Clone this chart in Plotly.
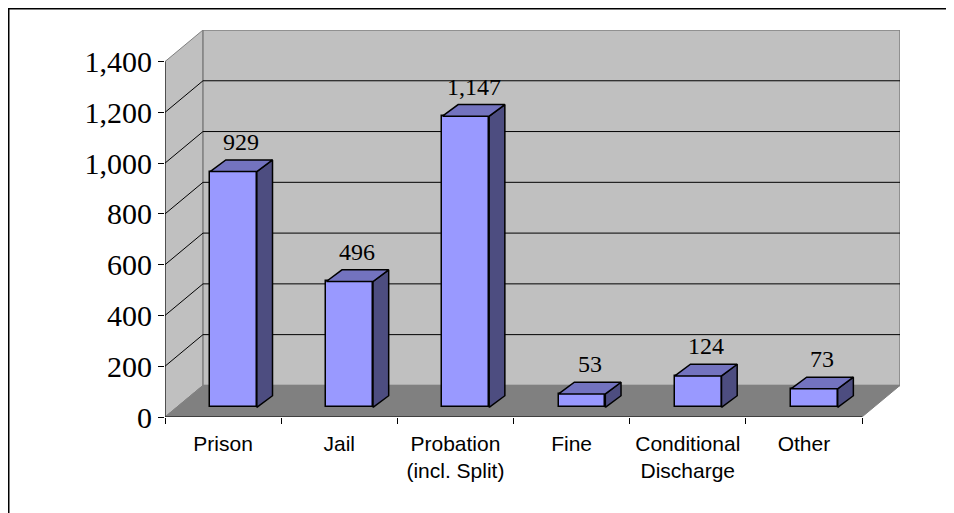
import plotly.graph_objects as go

# ---- data ----
categories = ["Prison", "Jail", "Probation<br>(incl. Split)", "Fine", "Conditional<br>Discharge", "Other"]
values = [929, 496, 1147, 53, 124, 73]
y_ticks = [0, 200, 400, 600, 800, 1000, 1200, 1400]

# ---- 3D geometry (in axis units) ----
DX, DY = 0.327, 124.4        # depth of the chart walls
BX, BY = 0.0895, 37.8        # front face of bars sits this far back
W = 0.402                    # bar width
DDX, DDY = 0.135, 46.0       # bar depth
YMAX = 1400

FRONT = "#9999FF"
TOP = "#7373BF"
SIDE = "#4D4D80"
WALL = "#C0C0C0"
FLOOR = "#808080"

# page body has an 8px margin; figure is sized/positioned to compensate
ML, MR, MT, MB = 157, 54, 22, 96
FW, FH = 946, 505
PW = FW - ML - MR
PH = FH - MT - MB

xs = list(range(len(values)))
x0, x1 = -0.5, len(values) - 0.5

fig = go.Figure()

shapes = []
shapes.append(dict(type="path", xref="x", yref="y", layer="below",
                   path=f"M {x0},0 L {x0+DX},{DY} L {x0+DX},{YMAX+DY} L {x0},{YMAX} Z",
                   fillcolor=WALL, line=dict(color="#808080", width=1)))
shapes.append(dict(type="path", xref="x", yref="y", layer="below",
                   path=f"M {x0+DX},{DY} L {x1+DX},{DY} L {x1+DX},{YMAX+DY} L {x0+DX},{YMAX+DY} Z",
                   fillcolor=WALL, line=dict(color="#808080", width=1.5)))
shapes.append(dict(type="path", xref="x", yref="y", layer="below",
                   path=f"M {x0},0 L {x1},0 L {x1+DX},{DY} L {x0+DX},{DY} Z",
                   fillcolor=FLOOR, line=dict(color="#808080", width=1)))
for v in y_ticks[1:-1]:
    shapes.append(dict(type="path", xref="x", yref="y", layer="below",
                       path=f"M {x0},{v} L {x0+DX},{v+DY} L {x1+DX},{v+DY}",
                       line=dict(color="#000000", width=1)))
shapes.append(dict(type="line", xref="x", yref="y", x0=x0, x1=x0, y0=0, y1=YMAX,
                   line=dict(color="#000000", width=1)))
shapes.append(dict(type="line", xref="x", yref="y", x0=x0, x1=x1, y0=0, y1=0,
                   line=dict(color="#000000", width=1)))
# outer frame
shapes.append(dict(type="rect", xref="paper", yref="paper",
                   x0=(0.5 - ML) / PW, x1=1.5, y0=-0.5, y1=(MT + PH - 0.5) / PH,
                   line=dict(color="#000000", width=2), fillcolor="rgba(0,0,0,0)"))

fig.add_trace(go.Bar(x=[x + BX for x in xs], y=values, base=[BY] * len(values), width=W,
                     marker=dict(color=FRONT, line=dict(color="#000000", width=1.5)),
                     hoverinfo="skip", showlegend=False))

for x, v in zip(xs, values):
    l = x + BX - W / 2
    r = x + BX + W / 2
    b = BY
    t = BY + v
    fig.add_trace(go.Scatter(
        x=[r, r + DDX, r + DDX, r, r], y=[b, b + DDY, t + DDY, t, b],
        fill="toself", fillcolor=SIDE, mode="lines",
        line=dict(color="#000000", width=1.5), hoverinfo="skip", showlegend=False))
    fig.add_trace(go.Scatter(
        x=[l, r, r + DDX, l + DDX, l], y=[t, t, t + DDY, t + DDY, t],
        fill="toself", fillcolor=TOP, mode="lines",
        line=dict(color="#000000", width=1.5), hoverinfo="skip", showlegend=False))

fig.add_trace(go.Scatter(x=[x0], y=[0], xaxis="x2", mode="markers",
                         marker=dict(opacity=0), hoverinfo="skip", showlegend=False))

annotations = []
for x, v in zip(xs, values):
    annotations.append(dict(x=x + BX + DDX / 2, y=v + BY + DDY, xref="x", yref="y",
                            text=f"{v:,}", showarrow=False, yanchor="bottom", yshift=3,
                            font=dict(family="Liberation Serif, Times New Roman, serif",
                                      size=24, color="#000000")))

xrange = [x0, x1 + DX]
fig.update_layout(
    width=FW, height=FH,
    margin=dict(l=ML, r=MR, t=MT, b=MB),
    paper_bgcolor="white", plot_bgcolor="white",
    shapes=shapes, annotations=annotations,
    bargap=0,
    xaxis=dict(range=xrange, tickmode="array", tickvals=xs, ticktext=categories,
               ticks="", showgrid=False, zeroline=False, showline=False,
               tickfont=dict(family="Liberation Sans, Arial, sans-serif", size=21, color="#000000"),
               ticklabelstandoff=12, fixedrange=True),
    xaxis2=dict(range=xrange, overlaying="x", anchor="y", side="bottom",
                tickmode="array", tickvals=[x0 + i for i in range(len(values) + 1)],
                ticks="outside", ticklen=6, tickcolor="#000000", tickwidth=1,
                showticklabels=False, showgrid=False, zeroline=False, showline=False),
    yaxis=dict(range=[0, YMAX + DY], tickmode="array", tickvals=y_ticks,
               ticktext=[f"{t:,}" for t in y_ticks],
               ticks="outside", ticklen=6, tickcolor="#000000", tickwidth=1,
               showgrid=False, zeroline=False, showline=False,
               tickfont=dict(family="Liberation Serif, Times New Roman, serif", size=30, color="#000000"),
               ticklabelstandoff=0, fixedrange=True),
)

fig.write_html("out.html")
